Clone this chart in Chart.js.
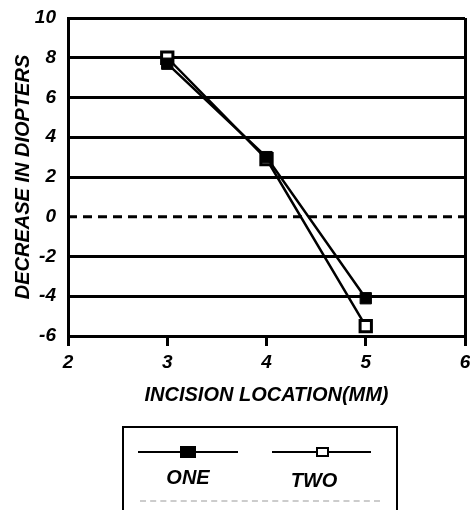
<!DOCTYPE html>
<html>
<head>
<meta charset="utf-8">
<script src="https://cdn.jsdelivr.net/npm/chart.js@4/dist/chart.umd.min.js"></script>
<style>
  html, body { margin: 0; padding: 0; background: #fff; }
  #wrap { position: relative; width: 470px; height: 510px; overflow: hidden; }
  #c { position: absolute; left: 0; top: 0; }
  .lg { position: absolute; font-family: "Liberation Sans", Arial, sans-serif; font-weight: bold; font-style: italic; }
</style>
</head>
<body>
<div id="wrap">
  <canvas id="c" width="470" height="510"></canvas>
  <div id="legend"></div>
</div>
<script>
// ---- data ----
const xValues = [3, 4, 5];
const seriesNames = ["ONE", "TWO"];
const oneValues = [7.7, 3.0, -4.1];
const twoValues = [8.0, 2.9, -5.5];
const xTicks = [2, 3, 4, 5, 6];
const yTicks = [-6, -4, -2, 0, 2, 4, 6, 8, 10];
const referenceLevel = 0;
const xTitle = "INCISION LOCATION(MM)";
const yTitle = "DECREASE IN DIOPTERS";

const FONT = "'Liberation Sans', Arial, sans-serif";
const pts = vals => xValues.map((x, i) => ({ x: x, y: vals[i] }));

const chart = new Chart(document.getElementById('c'), {
  type: 'scatter',
  data: {
    datasets: [
      {
        label: 'zero',
        data: [{ x: xTicks[0], y: referenceLevel }, { x: xTicks[xTicks.length - 1], y: referenceLevel }],
        showLine: true,
        borderColor: '#000',
        borderWidth: 3,
        borderDash: [9, 6],
        pointRadius: 0,
        order: 3
      },
      {
        label: seriesNames[0],
        data: pts(oneValues),
        showLine: true,
        borderColor: '#000',
        borderWidth: 2.5,
        pointStyle: 'rect',
        pointRadius: 8,
        pointBackgroundColor: '#000',
        pointBorderColor: '#000',
        pointBorderWidth: 1,
        order: 1
      },
      {
        label: seriesNames[1],
        data: pts(twoValues),
        showLine: true,
        borderColor: '#000',
        borderWidth: 2.5,
        pointStyle: 'rect',
        pointRadius: 8,
        pointBackgroundColor: '#fff',
        pointBorderColor: '#000',
        pointBorderWidth: 3,
        order: 2
      }
    ]
  },
  options: {
    responsive: false,
    animation: false,
    layout: { autoPadding: false, padding: { left: 0, right: 5, top: 18, bottom: 102 } },
    plugins: { legend: { display: false }, tooltip: { enabled: false } },
    elements: { line: { tension: 0 } },
    scales: {
      x: {
        type: 'linear',
        min: xTicks[0],
        max: xTicks[xTicks.length - 1],
        afterBuildTicks: s => { s.ticks = xTicks.map(v => ({ value: v })); },
        afterFit: s => { s.height = 72; s.paddingLeft = 0; s.paddingRight = 0; },
        border: { display: true, color: '#000', width: 3 },
        grid: {
          color: c => (c.tick && (c.tick.value === xTicks[0] || c.tick.value === xTicks[xTicks.length - 1])) ? '#000' : 'rgba(0,0,0,0)',
          lineWidth: 3,
          drawTicks: true,
          tickLength: 10,
          tickColor: '#000',
          tickWidth: 3
        },
        ticks: {
          color: '#000',
          padding: 5,
          font: { family: FONT, size: 19, weight: 'bold', style: 'italic' }
        },
        title: {
          display: true,
          text: xTitle,
          color: '#000',
          padding: { top: 0, bottom: 1 },
          font: { family: FONT, size: 20, weight: 'bold', style: 'italic' }
        }
      },
      y: {
        type: 'linear',
        min: yTicks[0],
        max: yTicks[yTicks.length - 1],
        afterBuildTicks: s => { s.ticks = yTicks.map(v => ({ value: v })); },
        afterFit: s => { s.width = 68; s.paddingTop = 0; s.paddingBottom = 0; },
        border: { display: true, color: '#000', width: 3 },
        grid: {
          color: c => (c.tick && c.tick.value === referenceLevel) ? 'rgba(0,0,0,0)' : '#000',
          lineWidth: 3,
          drawTicks: false
        },
        ticks: {
          color: '#000',
          padding: 12,
          font: { family: FONT, size: 19, weight: 'bold', style: 'italic' }
        },
        title: {
          display: true,
          text: yTitle,
          color: '#000',
          padding: { top: 11, bottom: 0 },
          font: { family: FONT, size: 20, weight: 'bold', style: 'italic' }
        }
      }
    }
  }
});

// ---- HTML legend ----
(function buildLegend() {
  const L = document.getElementById('legend');
  const add = (style, text) => {
    const d = document.createElement('div');
    d.className = 'lg';
    Object.assign(d.style, style);
    if (text) d.textContent = text;
    L.appendChild(d);
    return d;
  };
  add({ left: '122px', top: '426px', width: '276px', height: '100px', border: '2px solid #000', boxSizing: 'border-box' });
  add({ left: '140px', top: '500px', width: '240px', height: '0', borderTop: '2px dashed #ccc' });
  add({ left: '138px', top: '451px', width: '100px', height: '2px', background: '#000' });
  add({ left: '180px', top: '446px', width: '16px', height: '12px', background: '#000' });
  add({ left: '272px', top: '451px', width: '99px', height: '2px', background: '#000' });
  add({ left: '316px', top: '447px', width: '13px', height: '10px', background: '#fff', border: '2px solid #000', boxSizing: 'border-box' });
  const lab = { fontSize: '20px', color: '#000', width: '100px', textAlign: 'center', lineHeight: '20px' };
  add(Object.assign({ left: '138px', top: '467px' }, lab), seriesNames[0]);
  add(Object.assign({ left: '264px', top: '470px' }, lab), seriesNames[1]);
})();
</script>
</body>
</html>
